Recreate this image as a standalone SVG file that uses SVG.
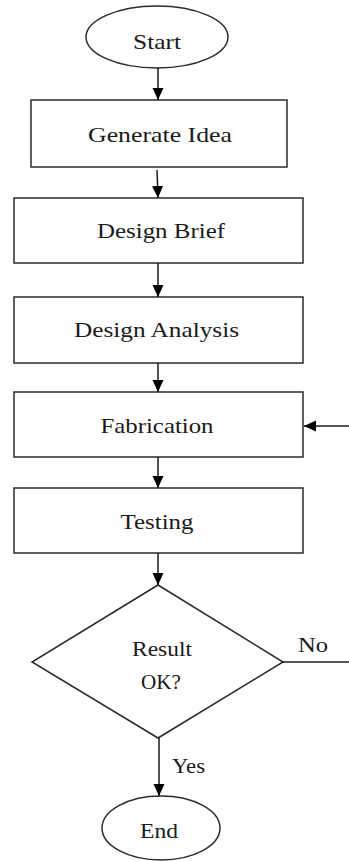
<svg xmlns="http://www.w3.org/2000/svg" width="349" height="861" viewBox="0 0 349 861">
  <style>
    .shape { fill: #ffffff; stroke: #2b2b2b; stroke-width: 1.5; }
    .lbl { font-family: "Liberation Serif", "DejaVu Serif", serif; font-size: 21px; fill: #1a1a1a; text-anchor: middle; }
    .side { font-family: "Liberation Serif", "DejaVu Serif", serif; font-size: 21px; fill: #1a1a1a; }
    .edge { stroke: #1a1a1a; stroke-width: 1.5; fill: none; }
  </style>
  <defs>
    <marker id="arrow" markerUnits="userSpaceOnUse" markerWidth="12" markerHeight="14" viewBox="0 0 12 14" refX="12" refY="7" orient="auto">
      <path d="M0,1.5 L12,7 L0,12.5 Z" fill="#000000"/>
    </marker>
  </defs>
  <rect width="349" height="861" fill="#ffffff"/>

  <g id="start">
    <ellipse class="shape" cx="157" cy="37" rx="71" ry="31"/>
    <text class="lbl" x="157" y="49" textLength="48" lengthAdjust="spacingAndGlyphs">Start</text>
  </g>
  <g id="generate-idea">
    <rect class="shape" x="31" y="100" width="256" height="67"/>
    <text class="lbl" x="160" y="142" textLength="144" lengthAdjust="spacingAndGlyphs">Generate Idea</text>
  </g>
  <g id="design-brief">
    <rect class="shape" x="14" y="198" width="289" height="65"/>
    <text class="lbl" x="161" y="238" textLength="128" lengthAdjust="spacingAndGlyphs">Design Brief</text>
  </g>
  <g id="design-analysis">
    <rect class="shape" x="14" y="297" width="289" height="66"/>
    <text class="lbl" x="156.5" y="337" textLength="165" lengthAdjust="spacingAndGlyphs">Design Analysis</text>
  </g>
  <g id="fabrication">
    <rect class="shape" x="14" y="392" width="289" height="65"/>
    <text class="lbl" x="157" y="433" textLength="113" lengthAdjust="spacingAndGlyphs">Fabrication</text>
  </g>
  <g id="testing">
    <rect class="shape" x="14" y="488" width="289" height="65"/>
    <text class="lbl" x="157" y="529" textLength="73" lengthAdjust="spacingAndGlyphs">Testing</text>
  </g>
  <g id="result-ok">
    <polygon class="shape" points="158,585 283,662 158,738 32,662"/>
    <text class="lbl" x="162" y="656" textLength="60" lengthAdjust="spacingAndGlyphs">Result</text>
    <text class="lbl" x="161" y="689" textLength="40" lengthAdjust="spacingAndGlyphs">OK?</text>
  </g>
  <g id="end">
    <ellipse class="shape" cx="161" cy="828" rx="59" ry="32"/>
    <text class="lbl" x="159" y="838" textLength="38" lengthAdjust="spacingAndGlyphs">End</text>
  </g>

  <g id="connectors">
    <line class="edge" x1="158" y1="68" x2="158" y2="100" marker-end="url(#arrow)"/>
    <line class="edge" x1="157" y1="170" x2="158" y2="198" marker-end="url(#arrow)"/>
    <line class="edge" x1="158" y1="263" x2="158" y2="297" marker-end="url(#arrow)"/>
    <line class="edge" x1="158" y1="363" x2="158" y2="392" marker-end="url(#arrow)"/>
    <line class="edge" x1="158" y1="457" x2="158" y2="488" marker-end="url(#arrow)"/>
    <line class="edge" x1="158" y1="553" x2="158" y2="585" marker-end="url(#arrow)"/>
    <line class="edge" x1="159" y1="738" x2="159" y2="796" marker-end="url(#arrow)"/>
    <line class="edge" x1="283" y1="662" x2="349" y2="662"/>
    <line class="edge" x1="349" y1="426" x2="304" y2="426" marker-end="url(#arrow)"/>
    <text class="side" x="298" y="652" textLength="30" lengthAdjust="spacingAndGlyphs">No</text>
    <text class="side" x="172" y="773" textLength="33" lengthAdjust="spacingAndGlyphs">Yes</text>
  </g>
</svg>
